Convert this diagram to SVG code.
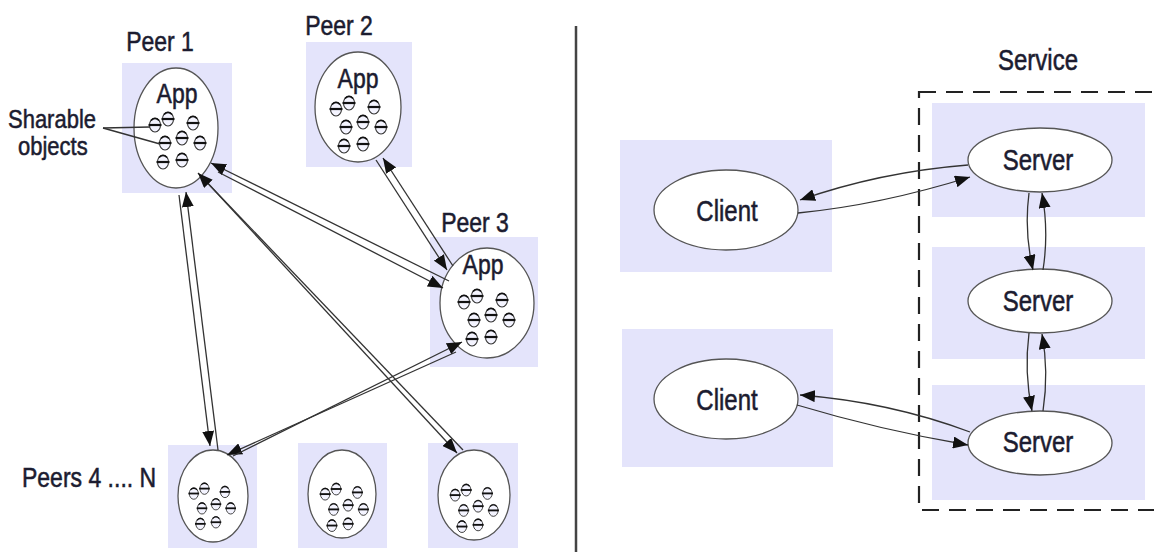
<svg xmlns="http://www.w3.org/2000/svg" xmlns:xlink="http://www.w3.org/1999/xlink" width="1154" height="552" viewBox="0 0 1154 552">
  <style>
    .box { fill: #e4e4fb; stroke: none; }
    .node { fill: #ffffff; stroke: #555; stroke-width: 1.3; }
    .lbl { font-family: "Liberation Sans", Arial, sans-serif; font-size: 23px; fill: #1c1c30; stroke: #1c1c30; stroke-width: 0.45; }
    .mid { text-anchor: middle; }
    .edge { fill: none; stroke: #333; stroke-width: 1.3; marker-end: url(#arrow); }
    .plain { fill: none; stroke: #333; stroke-width: 1.3; }
    .obj { fill: #f4f4ff; stroke: #333; stroke-width: 1.1; }
    .objcap { fill: none; stroke: #111; stroke-width: 1.6; }
    .objbar { stroke: #111; stroke-width: 2.2; }
  </style>
  <defs>
    <marker id="arrow" markerUnits="userSpaceOnUse" markerWidth="16" markerHeight="12" viewBox="0 0 16 12" refX="15" refY="6" orient="auto">
      <path d="M0,0 L15,6 L0,12 Z" fill="#111"/>
    </marker>
    <!-- one shareable object: small oval crossed by a bar -->
    <g id="obj">
      <ellipse class="obj" cx="0" cy="0" rx="5.5" ry="7"/>
      <path class="objcap" d="M-4,-4.5 Q0,-8.5 4,-4.5"/>
      <line class="objbar" x1="-6.5" y1="0" x2="6.5" y2="0"/>
    </g>
    <!-- cluster of eight objects inside an application -->
    <g id="objset">
      <use xlink:href="#obj" x="-21" y="-14"/>
      <use xlink:href="#obj" x="-8" y="-20"/>
      <use xlink:href="#obj" x="17" y="-16"/>
      <use xlink:href="#obj" x="-11" y="4"/>
      <use xlink:href="#obj" x="6" y="-1"/>
      <use xlink:href="#obj" x="24" y="4"/>
      <use xlink:href="#obj" x="-13" y="23"/>
      <use xlink:href="#obj" x="6" y="21"/>
    </g>
  </defs>

  <rect width="1154" height="552" fill="#ffffff"/>

  <!-- divider between the two models -->
  <line x1="576" y1="26" x2="576" y2="552" stroke="#444" stroke-width="2.5"/>

  <!-- peer-to-peer side -->
  <g id="peer1">
    <rect class="box" x="122" y="63" width="110" height="130"/>
    <ellipse class="node" cx="176" cy="128" rx="42" ry="60"/>
    <text class="lbl mid" transform="translate(160 51) scale(1 1.22)">Peer 1</text>
    <text class="lbl mid" transform="translate(177 103) scale(1 1.22)">App</text>
    <use xlink:href="#objset" transform="translate(176 139)"/>
  </g>

  <g id="sharable-label">
    <text class="lbl" transform="translate(8 128) scale(1 1.2)" style="font-size:22px">Sharable</text>
    <text class="lbl" transform="translate(18 155) scale(1 1.2)" style="font-size:22px">objects</text>
    <line class="plain" x1="103" y1="128" x2="150" y2="127"/>
    <line class="plain" x1="103" y1="128" x2="160" y2="144"/>
  </g>

  <g id="peer2">
    <rect class="box" x="306" y="42" width="106" height="125"/>
    <ellipse class="node" cx="358" cy="107" rx="43" ry="55"/>
    <text class="lbl mid" transform="translate(339 35) scale(1 1.22)">Peer 2</text>
    <text class="lbl mid" transform="translate(358 88) scale(1 1.22)">App</text>
    <use xlink:href="#objset" transform="translate(357 123)"/>
  </g>

  <g id="peer3">
    <rect class="box" x="430" y="237" width="108" height="130"/>
    <ellipse class="node" cx="487" cy="303" rx="47" ry="55"/>
    <text class="lbl mid" transform="translate(475 232) scale(1 1.22)">Peer 3</text>
    <text class="lbl mid" transform="translate(483 274) scale(1 1.22)">App</text>
    <use xlink:href="#objset" transform="translate(485 316)"/>
  </g>

  <g id="peers-label">
    <text class="lbl" transform="translate(22 487) scale(1 1.22)">Peers 4 .... N</text>
  </g>

  <g id="peer4">
    <rect class="box" x="168" y="445" width="89" height="103"/>
    <ellipse class="node" cx="213" cy="496" rx="35" ry="46"/>
    <use xlink:href="#objset" transform="translate(211 505) scale(0.82)"/>
  </g>

  <g id="peer5">
    <rect class="box" x="298" y="443" width="89" height="105"/>
    <ellipse class="node" cx="342" cy="494" rx="34" ry="44"/>
    <use xlink:href="#objset" transform="translate(343 506) scale(0.85)"/>
  </g>

  <g id="peerN">
    <rect class="box" x="428" y="443" width="90" height="105"/>
    <ellipse class="node" cx="474" cy="495" rx="36" ry="45"/>
    <use xlink:href="#objset" transform="translate(473 507) scale(0.85)"/>
  </g>

  <!-- client/server side -->
  <g id="client1">
    <rect class="box" x="620" y="140" width="212" height="132"/>
    <ellipse class="node" cx="726" cy="210" rx="72" ry="40"/>
    <text class="lbl mid" transform="translate(727 221) scale(1 1.22)" style="font-size:24px">Client</text>
  </g>

  <g id="client2">
    <rect class="box" x="622" y="329" width="211" height="138"/>
    <ellipse class="node" cx="726" cy="399" rx="72" ry="40"/>
    <text class="lbl mid" transform="translate(727 410) scale(1 1.22)" style="font-size:24px">Client</text>
  </g>

  <g id="service">
    <text class="lbl mid" transform="translate(1038 70) scale(1 1.22)" style="font-size:24px">Service</text>
    <rect x="919" y="92" width="260" height="418" fill="none" stroke="#222" stroke-width="2.2" stroke-dasharray="17 10"/>
  </g>

  <g id="server1">
    <rect class="box" x="932" y="103" width="213" height="114"/>
    <ellipse class="node" cx="1040" cy="160" rx="72" ry="32"/>
    <text class="lbl mid" transform="translate(1038 170) scale(1 1.22)" style="font-size:24px">Server</text>
  </g>

  <g id="server2">
    <rect class="box" x="932" y="247" width="213" height="112"/>
    <ellipse class="node" cx="1040" cy="301" rx="72" ry="32"/>
    <text class="lbl mid" transform="translate(1038 311) scale(1 1.22)" style="font-size:24px">Server</text>
  </g>

  <g id="server3">
    <rect class="box" x="932" y="385" width="213" height="115"/>
    <ellipse class="node" cx="1040" cy="443" rx="72" ry="32"/>
    <text class="lbl mid" transform="translate(1038 452) scale(1 1.22)" style="font-size:24px">Server</text>
  </g>

  <!-- connectors -->
  <g id="connectors">
    <path class="edge" d="M218,172 L443,288"/>
    <path class="edge" d="M449,281 L211,163"/>
    <path class="edge" d="M376,160 L447,270"/>
    <path class="edge" d="M453,266 L383,158"/>
    <path class="edge" d="M203,178 L457,453"/>
    <path class="edge" d="M463,450 L198,173"/>
    <path class="edge" d="M179,195 L210,446"/>
    <path class="edge" d="M218,450 L186,192"/>
    <path class="edge" d="M456,352 L227,455"/>
    <path class="edge" d="M233,456 L462,342"/>

    <path class="edge" d="M968,165 Q880,172 800,200"/>
    <path class="edge" d="M798,213 Q880,205 970,177"/>
    <path class="edge" d="M970,432 Q890,402 800,395"/>
    <path class="edge" d="M797,405 Q880,430 968,445"/>
    <path class="edge" d="M1029,193 Q1024,232 1033,270"/>
    <path class="edge" d="M1043,270 Q1049,232 1042,193"/>
    <path class="edge" d="M1029,333 Q1024,372 1032,411"/>
    <path class="edge" d="M1043,411 Q1049,372 1042,334"/>
  </g>
</svg>
